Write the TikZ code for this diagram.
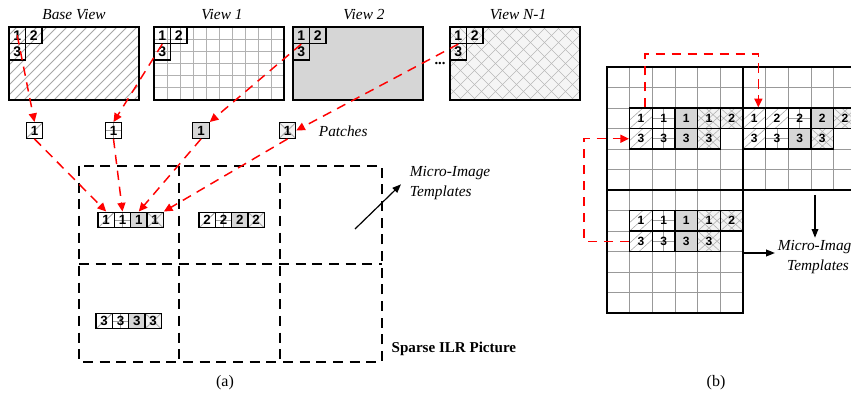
\documentclass[tikz,border=0pt]{standalone}
\usepackage{fontspec}
\setmainfont{Liberation Serif}
\newfontfamily\arialf{Liberation Sans}
\usetikzlibrary{arrows.meta}
\begin{document}
\begin{tikzpicture}[x=0.75pt,y=-0.75pt,
  cellb/.style={draw=black, line width=0.9pt, inner sep=0pt, font=\arialf\bfseries\fontsize{10}{10}\selectfont},
  vsz/.style={minimum width=12.4pt, minimum height=12.4pt, font=\arialf\bfseries\fontsize{10.5}{10.5}\selectfont},
  psz/.style={minimum width=12.2pt, minimum height=11.8pt},
  bsz/.style={minimum width=17pt, minimum height=15.4pt, line width=1pt, font=\arialf\bfseries\fontsize{9}{9}\selectfont},
  hat/.style={path picture={\foreach \s in {-#1,0pt,#1}{\draw[gray!65,line width=0.45pt] ([xshift=\s]path picture bounding box.south west) -- ([xshift=\s]path picture bounding box.north east);}}},
  hat/.default=0pt,
  grd/.style={path picture={\draw[gray!75,line width=0.5pt] (path picture bounding box.west) -- (path picture bounding box.east) (path picture bounding box.north) -- (path picture bounding box.south);}},
  gry/.style={fill=black!16},
  xh/.style={fill=black!5, path picture={\foreach \s in {-#1,0pt,#1}{\draw[gray!60,line width=0.45pt] ([xshift=\s]path picture bounding box.south west) -- ([xshift=\s]path picture bounding box.north east) ([xshift=\s]path picture bounding box.north west) -- ([xshift=\s]path picture bounding box.south east);}}},
  xh/.default=0pt,
  viewb/.style={draw=black, line width=1.1pt, inner sep=0pt, minimum width=97.5pt, minimum height=54.75pt},
  hatview/.style={path picture={\foreach \k in {-14,...,7}{\draw[gray!70,line width=0.55pt] ([xshift=\k*7.5pt]path picture bounding box.south) -- ++(60pt,60pt);}}},
  gridview/.style={path picture={\foreach \k in {1,...,9}{\draw[gray!60,line width=0.5pt] ([xshift=\k*9.75pt]path picture bounding box.north west) -- ([xshift=\k*9.75pt]path picture bounding box.south west);}
     \foreach \k in {1,...,5}{\draw[gray!60,line width=0.5pt] ([yshift=-\k*9.125pt]path picture bounding box.north west) -- ([yshift=-\k*9.125pt]path picture bounding box.north east);}}},
  xhview/.style={fill=black!4, path picture={\foreach \k in {-12,...,6}{\draw[gray!55,line width=0.5pt] ([xshift=\k*10.5pt]path picture bounding box.south) -- ++(60pt,60pt); \draw[gray!55,line width=0.5pt] ([xshift=\k*10.5pt]path picture bounding box.north) -- ++(60pt,-60pt);}}},
  lbl/.style={font=\itshape\fontsize{11.5}{14}\selectfont, inner sep=2pt},
  reddash/.style={red, line width=1.1pt, dash pattern=on 7pt off 5pt, -{Triangle[length=6.5pt,width=6pt]}},
  griddash/.style={black, line width=0.9pt, dash pattern=on 7.5pt off 5pt},
  blackarr/.style={black, line width=0.9pt, -{Triangle[length=6.5pt,width=5pt]}},
  thinline/.style={gray!80, line width=0.6pt},
  blockline/.style={black, line width=1.7pt}
]
\useasboundingbox (0,0) rectangle (851,406);
\clip (0,0) rectangle (851,406);

% ---------------- (a) views ----------------
\node[viewb, hatview] (bv) at (74,63.5) {};
\node[viewb, gridview] (v1) at (219,63.5) {};
\node[viewb, fill=black!16] (v2) at (358,63.5) {};
\node[viewb, xhview] (vn) at (515,63.5) {};

\node[lbl] (lbv) at (74,15) {Base View};
\node[lbl] (lv1) at (222,15) {View 1};
\node[lbl] (lv2) at (364,15) {View 2};
\node[lbl] (lvn) at (518,15) {View N-1};
\node[font=\bfseries\fontsize{11}{12}\selectfont] (dots) at (440,64) {...};

\node[cellb,vsz] (bv1) at (17.25,35.25) {1};
\node[cellb,vsz] (bv2) at (33.75,35.25) {2};
\node[cellb,vsz] (bv3) at (17.25,51.75) {3};
\node[cellb,vsz] (v1c1) at (162.25,35.25) {1};
\node[cellb,vsz] (v1c2) at (178.75,35.25) {2};
\node[cellb,vsz] (v1c3) at (162.25,51.75) {3};
\node[cellb,vsz] (v2c1) at (301.25,35.25) {1};
\node[cellb,vsz] (v2c2) at (317.75,35.25) {2};
\node[cellb,vsz] (v2c3) at (301.25,51.75) {3};
\node[cellb,vsz] (vnc1) at (458.25,35.25) {1};
\node[cellb,vsz] (vnc2) at (474.75,35.25) {2};
\node[cellb,vsz] (vnc3) at (458.25,51.75) {3};

% patches
\node[cellb,psz,hat] (p1) at (34.5,130.5) {1};
\node[cellb,psz,grd] (p2) at (113.5,130.5) {1};
\node[cellb,psz,gry] (p3) at (201,130.5) {1};
\node[cellb,psz,xh] (p4) at (287.5,130.5) {1};
\node[lbl, anchor=west] (lpatch) at (316,131) {Patches};

% sparse ILR picture dashed cells
\draw[griddash] (79,166) rectangle (382,362);
\draw[griddash] (79,264) -- (382,264);
\draw[griddash] (179,166) -- (179,362);
\draw[griddash] (280,166) -- (280,362);

% strips
\node[cellb,psz,hat] (s11) at (106.2,220) {1};
\node[cellb,psz,grd] (s12) at (122.5,220) {1};
\node[cellb,psz,gry] (s13) at (138.8,220) {1};
\node[cellb,psz,xh] (s14) at (155.1,220) {1};
\node[cellb,psz,hat] (s21) at (207.2,220) {2};
\node[cellb,psz,grd] (s22) at (223.5,220) {2};
\node[cellb,psz,gry] (s23) at (239.8,220) {2};
\node[cellb,psz,xh] (s24) at (256.1,220) {2};
\node[cellb,psz,hat] (s31) at (104.2,321) {3};
\node[cellb,psz,grd] (s32) at (120.5,321) {3};
\node[cellb,psz,gry] (s33) at (136.8,321) {3};
\node[cellb,psz,xh] (s34) at (153.1,321) {3};

% red arrows (a)
\draw[reddash] (bv1.center) -- (p1.north);
\draw[reddash] (v1c1.south) -- (p2.north);
\draw[reddash] (v2c1.south) -- (p3.north east);
\draw[reddash] (vnc1.south) -- (p4.east);
\draw[reddash] (p1.south) -- (s11.north);
\draw[reddash] (p2.south) -- (s12.north);
\draw[reddash] (p3.south) -- (s13.north);
\draw[reddash] (p4.south) -- (s14.north east);

% micro-image templates (a)
\node[lbl, anchor=west, align=left, font=\itshape\fontsize{11.5}{14.5}\selectfont] (mta) at (407,183) {Micro-Image\\Templates};
\coordinate (mastart) at (355,229);
\draw[blackarr] (mastart) -- ([xshift=-4.5pt,yshift=-1pt]mta.west);

\node[anchor=west, font=\bfseries\fontsize{11.3}{13}\selectfont] (sparse) at (387,349) {Sparse ILR Picture};
\node[font=\fontsize{12}{14}\selectfont] (capa) at (225,383) {(a)};

% ---------------- (b) ----------------
% inner thin grid lines
\foreach \k in {1,...,5}{
  \draw[thinline] ({607+\k*22.667},67) -- ({607+\k*22.667},313);
  \draw[thinline] (607,{67+\k*20.5}) -- (743,{67+\k*20.5});
  \draw[thinline] (607,{190+\k*20.5}) -- (743,{190+\k*20.5});
  \draw[thinline] (743,{67+\k*20.5}) -- (880,{67+\k*20.5});
  \draw[thinline] ({743+\k*22.667},67) -- ({743+\k*22.667},190);
}

% strip cells top-left block
\node[cellb,bsz,hat=7pt] (tl21) at (641.0,118.25) {1};
\node[cellb,bsz,grd] (tl22) at (663.67,118.25) {1};
\node[cellb,bsz,gry] (tl23) at (686.33,118.25) {1};
\node[cellb,bsz,xh=6pt] (tl24) at (709.0,118.25) {1};
\node[cellb,bsz,xh=6pt] (tl25) at (731.67,118.25) {2};
\node[cellb,bsz,hat=7pt] (tl31) at (641.0,138.75) {3};
\node[cellb,bsz,grd] (tl32) at (663.67,138.75) {3};
\node[cellb,bsz,gry] (tl33) at (686.33,138.75) {3};
\node[cellb,bsz,xh=6pt] (tl34) at (709.0,138.75) {3};
% top-right block
\node[cellb,bsz,hat=7pt] (tr20) at (754.33,118.25) {1};
\node[cellb,bsz,hat=7pt] (tr21) at (777.0,118.25) {2};
\node[cellb,bsz,grd] (tr22) at (799.67,118.25) {2};
\node[cellb,bsz,gry] (tr23) at (822.33,118.25) {2};
\node[cellb,bsz,xh=6pt] (tr24) at (845.0,118.25) {2};
\node[cellb,bsz,hat=7pt] (tr30) at (754.33,138.75) {3};
\node[cellb,bsz,grd] (tr31) at (777.0,138.75) {3};
\node[cellb,bsz,gry] (tr32) at (799.67,138.75) {3};
\node[cellb,bsz,xh=6pt] (tr33) at (822.33,138.75) {3};
% bottom-left block
\node[cellb,bsz,hat=7pt] (bl11) at (641.0,220.75) {1};
\node[cellb,bsz,grd] (bl12) at (663.67,220.75) {1};
\node[cellb,bsz,gry] (bl13) at (686.33,220.75) {1};
\node[cellb,bsz,xh=6pt] (bl14) at (709.0,220.75) {1};
\node[cellb,bsz,xh=6pt] (bl15) at (731.67,220.75) {2};
\node[cellb,bsz,hat=7pt] (bl21) at (641.0,241.25) {3};
\node[cellb,bsz,grd] (bl22) at (663.67,241.25) {3};
\node[cellb,bsz,gry] (bl23) at (686.33,241.25) {3};
\node[cellb,bsz,xh=6pt] (bl24) at (709.0,241.25) {3};

% thick block borders
\draw[blockline] (607,67) rectangle (743,190);
\draw[blockline] (743,67) rectangle (880,190);
\draw[blockline] (607,190) rectangle (743,313);

% red arrows (b)
\coordinate (rtop) at (700,54);
\draw[reddash] ([xshift=3pt]tl21.north) |- (rtop) -| ([xshift=3pt]tr20.north);
\draw[reddash] (bl21.west) -- ++(-45,0) |- (tl31.west);

% micro-image templates (b)
\node[lbl, align=center, font=\itshape\fontsize{11.5}{14.5}\selectfont] (mtb) at (818,257) {Micro-Image\\Templates};
\coordinate (bdown) at (815,195);
\draw[blackarr] (bdown) -- (bdown |- mtb.north);
\coordinate (bright) at (744,253);
\draw[blackarr] (bright) -- ([yshift=3pt]mtb.west);

\node[font=\fontsize{12}{14}\selectfont] (capb) at (716,383) {(b)};
\end{tikzpicture}
\end{document}
